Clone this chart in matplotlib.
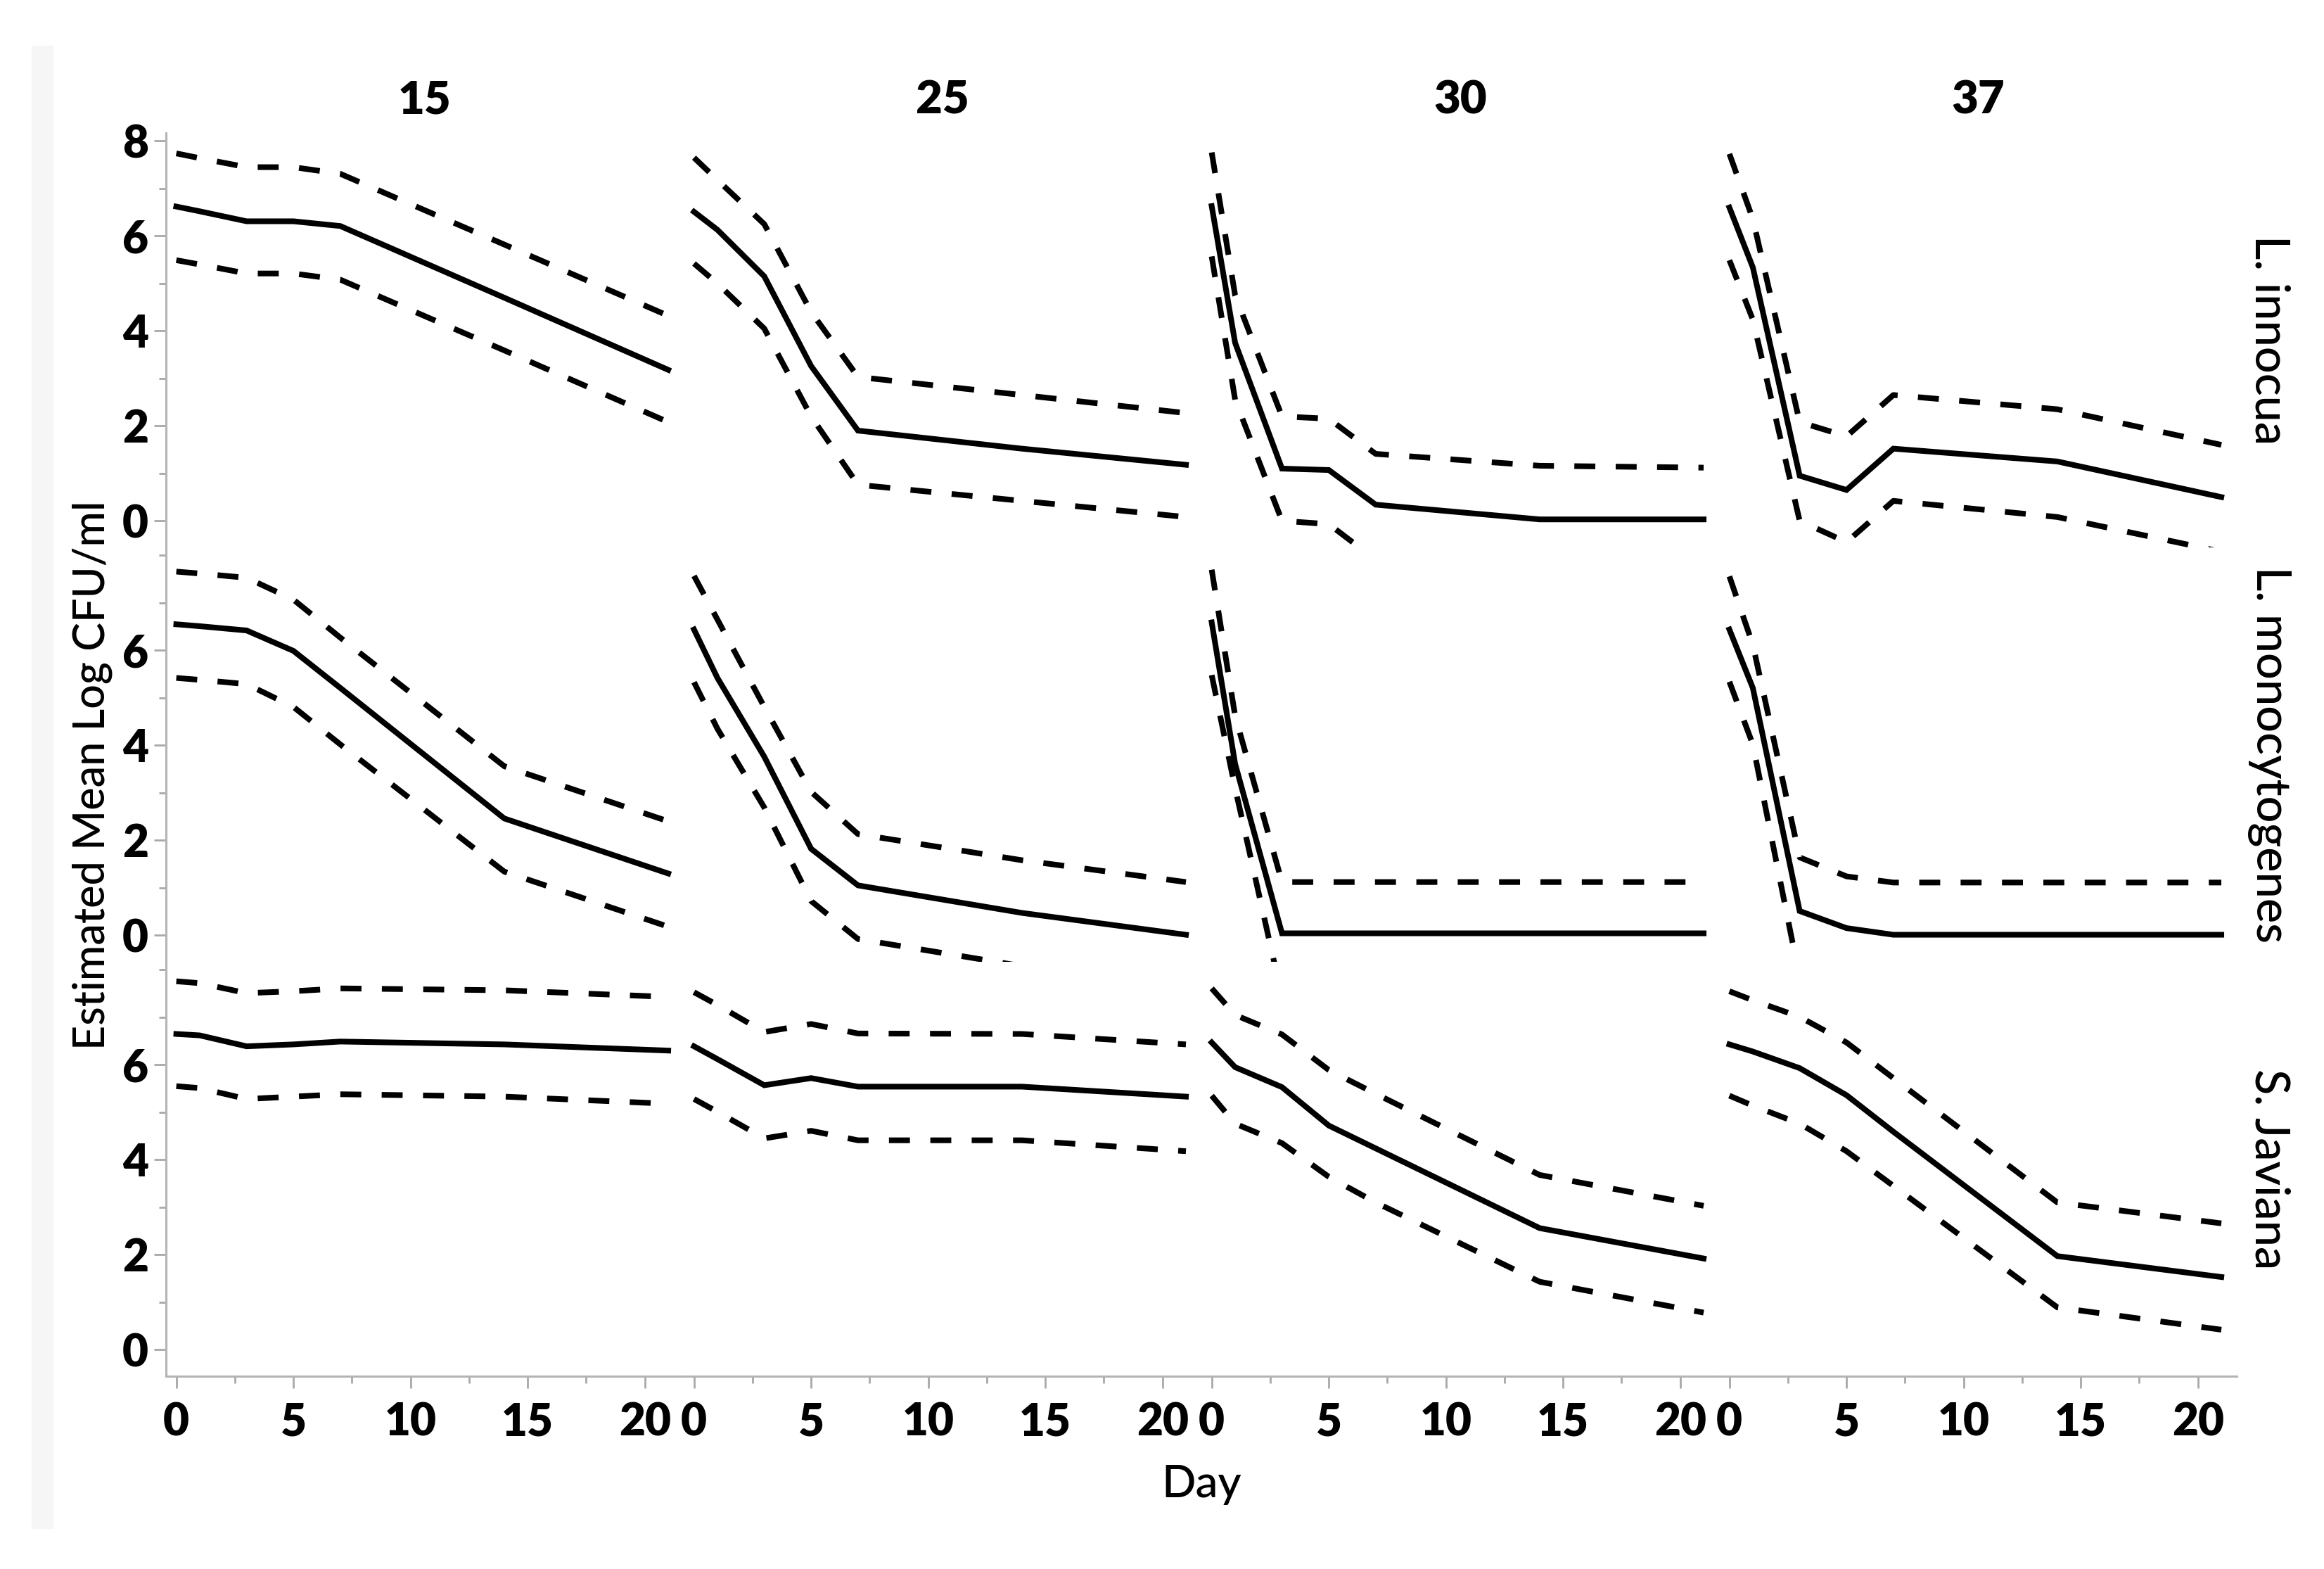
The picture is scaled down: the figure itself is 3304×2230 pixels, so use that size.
import numpy as np
import matplotlib
matplotlib.use('Agg')
import matplotlib.pyplot as plt
from matplotlib.patches import Rectangle

plt.rcParams['font.family'] = ['Lato', 'DejaVu Sans']

# Sampling days and panel labels
days = [0, 1, 3, 5, 7, 14, 21]
temps = ['15', '25', '30', '37']
species = ['L. innocua', 'L. monocytogenes', 'S. Javiana']

# L. innocua, one row per temperature (15, 25, 30, 37)
innocua_mean = [[6.62, 6.52, 6.31, 6.31, 6.21, 4.70, 3.18],
                [6.51, 6.13, 5.15, 3.26, 1.90, 1.52, 1.18],
                [6.63, 3.75, 1.10, 1.07, 0.34, 0.03, 0.03],
                [6.60, 5.34, 0.95, 0.65, 1.52, 1.25, 0.50]]
innocua_upper = [[7.74, 7.64, 7.45, 7.45, 7.31, 5.82, 4.32],
                 [7.65, 7.18, 6.25, 4.40, 3.03, 2.65, 2.27],
                 [7.76, 4.75, 2.20, 2.15, 1.41, 1.16, 1.12],
                 [7.73, 6.36, 2.08, 1.78, 2.65, 2.35, 1.60]]
innocua_lower = [[5.49, 5.40, 5.21, 5.21, 5.08, 3.59, 2.08],
                 [5.42, 5.00, 4.05, 2.20, 0.76, 0.42, 0.08],
                 [5.57, 2.55, 0.00, -0.07, -0.82, -1.10, -1.10],
                 [5.49, 4.24, 0.00, -0.45, 0.42, 0.08, -0.65]]

# L. monocytogenes
mono_mean = [[6.55, 6.51, 6.42, 5.99, 5.21, 2.46, 1.30],
             [6.44, 5.42, 3.76, 1.82, 1.05, 0.47, 0.01],
             [6.59, 3.61, 0.04, 0.04, 0.04, 0.04, 0.04],
             [6.44, 5.21, 0.51, 0.15, 0.01, 0.01, 0.01]]
mono_upper = [[7.66, 7.62, 7.53, 7.07, 6.27, 3.56, 2.40],
              [7.57, 6.65, 4.81, 3.02, 2.13, 1.58, 1.12],
              [7.70, 4.62, 1.12, 1.12, 1.12, 1.12, 1.12],
              [7.56, 6.12, 1.64, 1.24, 1.11, 1.11, 1.11]]
mono_lower = [[5.42, 5.38, 5.29, 4.81, 4.02, 1.34, 0.18],
              [5.33, 4.35, 2.69, 0.72, -0.08, -0.65, -1.00],
              [5.48, 3.10, -1.30, -1.50, -1.50, -1.50, -1.50],
              [5.34, 4.02, -0.90, -1.00, -1.00, -1.00, -1.00]]

# S. Javiana
javiana_mean = [[6.65, 6.62, 6.39, 6.43, 6.49, 6.43, 6.30],
                [6.39, 6.12, 5.57, 5.72, 5.54, 5.54, 5.33],
                [6.47, 5.95, 5.53, 4.72, 4.24, 2.56, 1.92],
                [6.43, 6.28, 5.93, 5.36, 4.59, 1.97, 1.53]]
javiana_upper = [[7.76, 7.72, 7.51, 7.55, 7.61, 7.57, 7.43],
                 [7.53, 7.26, 6.69, 6.86, 6.66, 6.65, 6.43],
                 [7.61, 7.05, 6.64, 5.89, 5.39, 3.68, 3.03],
                 [7.55, 7.36, 7.01, 6.47, 5.72, 3.10, 2.66]]
javiana_lower = [[5.55, 5.51, 5.28, 5.33, 5.38, 5.33, 5.18],
                 [5.28, 5.01, 4.45, 4.61, 4.41, 4.41, 4.18],
                 [5.35, 4.76, 4.35, 3.64, 3.10, 1.43, 0.78],
                 [5.35, 5.14, 4.76, 4.18, 3.45, 0.89, 0.42]]

means = [innocua_mean, mono_mean, javiana_mean]
uppers = [innocua_upper, mono_upper, javiana_upper]
lowers = [innocua_lower, mono_lower, javiana_lower]

W, H = 3304, 2230
fig = plt.figure(figsize=(W / 100, H / 100), dpi=100)
axes = fig.subplots(3, 4, gridspec_kw=dict(wspace=0, hspace=0))
fig.subplots_adjust(left=236 / W, right=3180 / W, top=1 - 189 / H, bottom=1 - 1956 / H)

# faint grey strip on the left edge (scan artefact in the original)
fig.patches.append(Rectangle((45 / W, 1 - 2172 / H), 30 / W, (2172 - 65) / H,
                             transform=fig.transFigure, color='#f6f6f6', zorder=0))

grey = '#a8a8a8'
lw = 5.8
dash = (0, (3.7, 3.6))
for r in range(3):
    for c in range(4):
        ax = axes[r, c]
        ax.plot(days, means[r][c], color='black', lw=lw, solid_joinstyle='miter')
        ax.plot(days, uppers[r][c], color='black', lw=lw, ls=dash)
        ax.plot(days, lowers[r][c], color='black', lw=lw, ls=dash)
        ax.set_xlim(-0.44, 21.66)
        ax.set_ylim(-0.56, 8.17)
        for s in ax.spines.values():
            s.set_visible(False)
        ax.set_xticks([0, 5, 10, 15, 20])
        ax.set_xticks([2.5, 7.5, 12.5, 17.5], minor=True)
        if r == 0:
            ax.set_yticks([0, 2, 4, 6, 8])
            ax.set_yticks([1, 3, 5, 7], minor=True)
        else:
            ax.set_yticks([0, 2, 4, 6])
            ax.set_yticks([1, 3, 5, 7, 8], minor=True)
        ax.tick_params(which='both', colors=grey, width=2, labelcolor='black',
                       labelsize=46)
        ax.tick_params(which='major', length=12)
        ax.tick_params(which='minor', length=7)
        ax.tick_params(axis='x', pad=14)
        ax.tick_params(axis='y', pad=6)
        for lab in ax.get_xticklabels() + ax.get_yticklabels():
            lab.set_fontweight('heavy')
        if c == 0:
            ax.spines['left'].set_visible(True)
            ax.spines['left'].set_color('#b4b4b4')
            ax.spines['left'].set_linewidth(2.2)
        else:
            ax.tick_params(axis='y', which='both', left=False, labelleft=False)
        if r == 2:
            ax.spines['bottom'].set_visible(True)
            ax.spines['bottom'].set_color('#b4b4b4')
            ax.spines['bottom'].set_linewidth(2.2)
        else:
            ax.tick_params(axis='x', which='both', bottom=False, labelbottom=False)
        if r == 0:
            ax.text(0.5, 1.078, temps[c], transform=ax.transAxes, ha='center',
                    va='center', fontsize=47, fontweight='heavy')
        if c == 3:
            ax.text(1.0625, 0.5, species[r], transform=ax.transAxes, ha='center',
                    va='center', rotation=270, fontsize=48, fontweight='medium')

fig.text(131 / W, 1 - 1102 / H, 'Estimated Mean Log CFU/ml', rotation=90,
         ha='center', va='center', fontsize=44, fontweight='medium')
fig.text(1708 / W, 1 - 2110 / H, 'Day', ha='center', va='center', fontsize=46,
         fontweight='medium')

fig.savefig('out.png', dpi=100)
